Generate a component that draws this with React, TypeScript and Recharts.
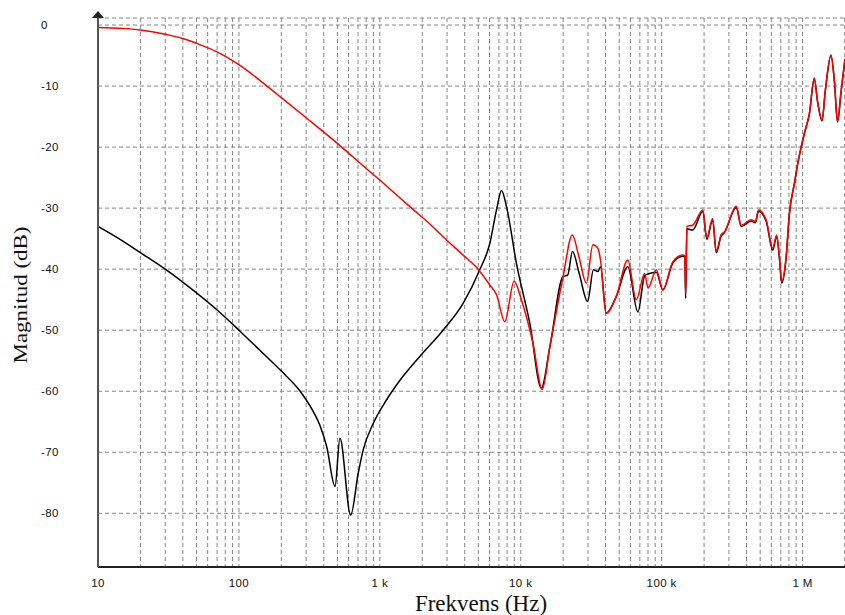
import React from "react"
import {
  LineChart,
  Line,
  XAxis,
  YAxis,
  CartesianGrid,
} from "recharts"

// red trace: frequency (Hz) and magnitude (dB)
const redFreq = [
  10, 15, 20, 30, 40, 50, 70, 100, 158, 200, 300, 536, 800, 1000, 1280, 1680,
  2265, 3000, 3900, 4980, 6030, 6730, 7700, 8970, 10100, 12200, 14200,
  16100, 20000, 23200, 25900, 29200, 32500, 35300, 36800, 40400, 47600, 57500,
  66000, 75700, 80000, 91600, 102000, 120000, 141000, 146000, 148000, 151000,
  166000, 196000, 209000, 230000, 244000, 264000, 279000, 338000, 367000,
  431000, 463000, 486000, 551000, 614000, 655000, 685000, 711000, 764000,
  805000, 875000, 923000, 1030000, 1117000, 1210000, 1280000, 1374000,
  1450000, 1590000, 1680000, 1770000, 1875000, 2000000,
]
const redDb = [
  -0.4, -0.55, -0.8, -1.5, -2.2, -3.0, -4.4, -6.5, -10.0, -11.9, -15.2, -20.0,
  -23.5, -25.4, -27.6, -30.0, -32.6, -35.3, -37.7, -40.0, -42.6, -44.2,
  -48.6, -42.0, -45.0, -52.1, -59.7, -52.7, -41.2, -34.4, -38.0, -42.3, -36.0,
  -36.6, -38.5, -47.2, -44.5, -38.5, -45.0, -40.7, -43.1, -40.1, -43.4, -38.8,
  -37.7, -37.8, -44.0, -33.0, -32.8, -30.3, -34.9, -31.7, -37.1, -34.4, -33.9,
  -29.7, -32.8, -31.9, -32.2, -30.3, -31.9, -36.6, -34.4, -38.0, -42.0, -38.0,
  -30.9, -25.9, -22.7, -17.7, -14.5, -8.7, -12.6, -15.6, -10.7, -4.9, -9.0,
  -15.8, -10.9, -5.5,
]

// black trace
const blackFreq = [
  10, 15, 20, 30, 50, 70, 100, 150, 200, 272, 340, 376, 420, 481, 521, 621,
  703, 762, 897, 1117, 1390, 1920, 2810, 3900, 5120, 6030, 6730, 7300, 7930,
  9310, 11600, 14000, 16100, 20000, 21500, 23300, 26000, 29800, 32800, 35300,
  36800, 40400, 47600, 57500, 67800, 75700, 80000, 91600, 102000, 120000,
  141000, 146000, 148000, 151000, 166000, 196000, 209000, 230000, 244000,
  264000, 279000, 338000, 367000, 431000, 463000, 486000, 551000, 614000,
  655000, 685000, 711000, 764000, 805000, 875000, 923000, 1030000, 1117000,
  1210000, 1280000, 1374000, 1450000, 1590000, 1680000, 1770000, 1875000,
  2000000,
]
const blackDb = [
  -33.0, -35.4, -37.3, -40.0, -43.9, -46.7, -50.0, -53.9, -56.7, -60.0, -63.5,
  -65.6, -69.1, -75.6, -67.7, -80.3, -73.4, -69.6, -65.3, -61.4, -58.2, -54.3,
  -50.0, -45.6, -40.1, -35.8, -30.3, -27.1, -29.8, -39.0, -48.9, -59.5, -52.7,
  -41.2, -41.0, -37.1, -40.7, -45.3, -40.1, -40.4, -39.6, -47.2, -44.5, -39.6,
  -47.0, -41.1, -40.8, -40.5, -43.4, -39.0, -37.9, -38.0, -44.8, -33.4, -33.6,
  -30.5, -35.1, -31.9, -37.3, -34.6, -34.0, -29.9, -33.0, -32.1, -32.4, -30.5,
  -32.1, -36.9, -34.6, -38.3, -42.3, -38.2, -31.1, -26.0, -22.8, -17.8, -14.6,
  -8.8, -12.7, -15.7, -10.8, -5.0, -9.1, -15.9, -11.0, -5.6,
]

const decadeTicks = [10, 100, 1000, 10000, 100000, 1000000]
const decadeLabels = ["10", "100", "1 k", "10 k", "100 k", "1 M"]
const minorSteps = [1, 2, 3, 4, 5, 6, 7, 8, 9]
const yTicks = [0, -10, -20, -30, -40, -50, -60, -70, -80]

const redData = redFreq.map((f, i) => ({ f, db: redDb[i] }))
const blackData = blackFreq.map((f, i) => ({ f, db: blackDb[i] }))
const xGridTicks = [
  ...decadeTicks.flatMap((d) => minorSteps.map((m) => d * m)),
  2000000,
]

const tickFont = {
  fontFamily: "'Liberation Sans', Arial, sans-serif",
  fontSize: 11.5,
  letterSpacing: 0.4,
  fill: "#111",
}

const YTick = ({ y, payload }: any) => (
  <text x={41} y={y} dy={4} textAnchor="start" style={tickFont}>
    {payload.value}
  </text>
)

const XTick = ({ x, payload }: any) => {
  const idx = decadeTicks.indexOf(payload.value)
  if (idx < 0) return <g />
  return (
    <text x={x} y={587} textAnchor="middle" style={tickFont}>
      {decadeLabels[idx]}
    </text>
  )
}

export default function App() {
  return (
    <div style={{ position: "absolute", left: 0, top: 0, width: 845, height: 615, background: "#fff" }}>
      <LineChart
        width={845}
        height={615}
        margin={{ top: 18, right: 0, bottom: 0, left: 0 }}
      >
        <CartesianGrid stroke="#858585" strokeDasharray="4 3" />
        <XAxis
          dataKey="f"
          type="number"
          scale="log"
          domain={[10, 2000000]}
          ticks={xGridTicks}
          interval={0}
          height={48}
          tickLine={false}
          axisLine={{ stroke: "#222", strokeWidth: 2 }}
          tick={XTick}
          allowDataOverflow
        />
        <YAxis
          type="number"
          domain={[-88.8, 1.15]}
          ticks={yTicks}
          width={98}
          tickLine={false}
          axisLine={{ stroke: "#555", strokeWidth: 2 }}
          tick={YTick}
          allowDataOverflow
        />
        <Line
          data={blackData}
          dataKey="db"
          type="monotone"
          stroke="#000"
          strokeWidth={1.5}
          dot={false}
          isAnimationActive={false}
        />
        <Line
          data={redData}
          dataKey="db"
          type="monotone"
          stroke="#ff0000"
          strokeWidth={1.5}
          dot={false}
          isAnimationActive={false}
        />
      </LineChart>
      <svg
        width={845}
        height={615}
        style={{ position: "absolute", left: 0, top: 0, pointerEvents: "none" }}
      >
        <polygon points="92,18 104,18 98,11" fill="#222" />
        <text
          x={481}
          y={611}
          textAnchor="middle"
          style={{ fontFamily: "'Liberation Serif', 'Times New Roman', serif", fontSize: 23, fill: "#111" }}
        >
          Frekvens (Hz)
        </text>
        <text
          transform="translate(26.5,295) rotate(-90)"
          textAnchor="middle"
          textLength={137}
          lengthAdjust="spacingAndGlyphs"
          style={{ fontFamily: "'Liberation Serif', 'Times New Roman', serif", fontSize: 18, fill: "#111" }}
        >
          Magnitud (dB)
        </text>
      </svg>
    </div>
  )
}
